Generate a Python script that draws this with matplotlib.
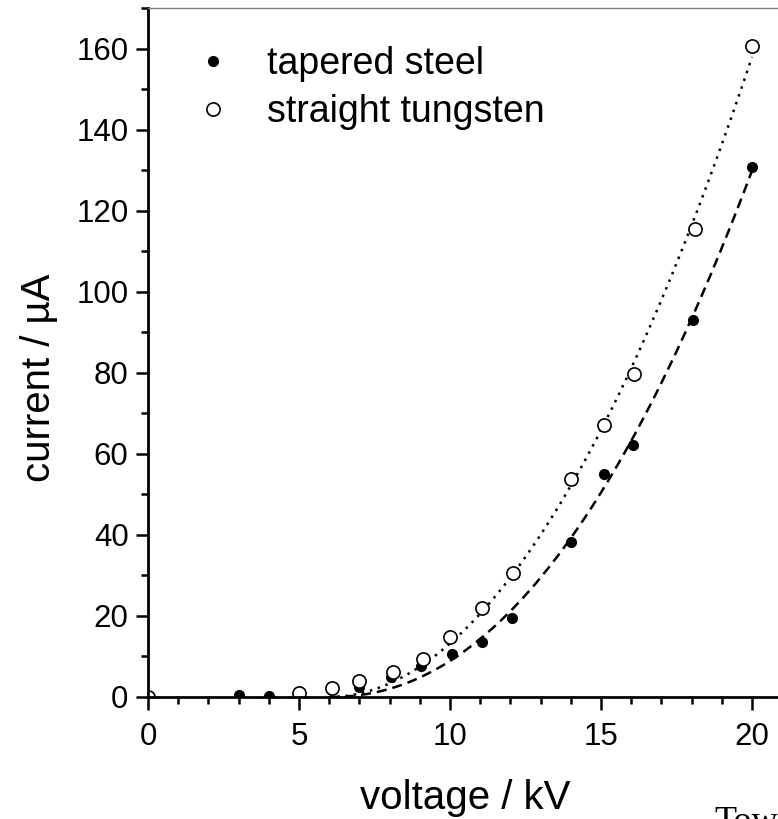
import numpy as np
import matplotlib
matplotlib.use('Agg')
import matplotlib.pyplot as plt
from matplotlib.ticker import MultipleLocator

# data
steel_v = np.array([3, 4, 7, 8.05, 9.05, 10.05, 11.05, 12.05, 14.0, 15.1, 16.05, 18.05, 20.0])
steel_i = np.array([0.5, 0.25, 2.5, 5.0, 7.7, 10.5, 13.6, 19.5, 38.2, 55.1, 62.2, 93.0, 130.7])
tung_v = np.array([0, 5, 6.1, 7.0, 8.1, 9.1, 10.0, 11.05, 12.1, 14.0, 15.1, 16.1, 18.1, 20.0])
tung_i = np.array([0, 0.9, 2.3, 4.0, 6.1, 9.3, 14.9, 22.0, 30.6, 53.8, 67.2, 79.8, 115.5, 160.6])
labels = ['tapered steel', 'straight tungsten']


def power_fit(v, i):
    # I = a*(V-V0)^n, least squares in I, grid over V0 and n
    best = None
    for v0 in np.arange(6.0, 7.01, 0.05):
        for n in np.arange(1.5, 3.01, 0.02):
            b = np.clip(v - v0, 0, None) ** n
            a = np.sum(b * i) / np.sum(b * b)
            err = np.sum((a * b - i) ** 2)
            if best is None or err < best[0]:
                best = (err, v0, n, a)
    return best[1:]


plt.rcParams['font.family'] = ['Liberation Sans', 'DejaVu Sans']

fig = plt.figure(figsize=(7.78, 8.19), dpi=100)
ax = fig.add_axes([148 / 778, 122 / 819, 21 * 30.2 / 778, 689 / 819])

for v, i, ls in [(steel_v, steel_i, (0, (4.0, 2.4))), (tung_v, tung_i, (0, (1.0, 2.3)))]:
    v0, n, a = power_fit(v, i)
    xx = np.linspace(v0, 20, 300)
    ax.plot(xx, a * (xx - v0) ** n, color='black', lw=1.8, linestyle=ls)

ax.plot(steel_v, steel_i, 'o', color='black', ms=7, label=labels[0])
ax.plot(tung_v, tung_i, 'o', mfc='white', mec='black', mew=1.2, ms=9.5, label=labels[1])

ax.set_xlim(0, 21)
ax.set_ylim(0, 170)
ax.xaxis.set_major_locator(MultipleLocator(5))
ax.xaxis.set_minor_locator(MultipleLocator(1))
ax.yaxis.set_major_locator(MultipleLocator(20))
ax.yaxis.set_minor_locator(MultipleLocator(10))
ax.tick_params(which='major', length=9, width=1.8, labelsize=22.5, direction='out', pad=5)
ax.tick_params(axis='x', which='major', pad=9)
ax.tick_params(which='minor', length=5, width=1.8, direction='out')
ax.tick_params(top=False, right=False)

ax.spines['left'].set_linewidth(2)
ax.spines['bottom'].set_linewidth(2)
ax.spines['top'].set_linewidth(1)
ax.spines['top'].set_color('#808080')
ax.spines['right'].set_visible(False)

ax.set_xlabel('voltage / kV', fontsize=29)
ax.set_ylabel('current / µA', fontsize=29)
ax.xaxis.set_label_coords((465 - 148) / (21 * 30.2), -(798 - 697) / 689)
ax.yaxis.set_label_coords(-(148 - 39) / (21 * 30.2), (697 - 378) / 689)
ax.xaxis.label.set_va('center')
ax.yaxis.label.set_va('center')

ax.legend(loc='upper left', bbox_to_anchor=(0.031, 0.978), frameon=False, fontsize=27,
          handletextpad=0.84, labelspacing=0.333, handlelength=1.2, numpoints=1,
          borderaxespad=0.2)

fig.text(714 / 778, 1 - 806 / 819, 'Tow', family='Liberation Serif', fontsize=26, va='top')

fig.savefig('out.png', dpi=100)
